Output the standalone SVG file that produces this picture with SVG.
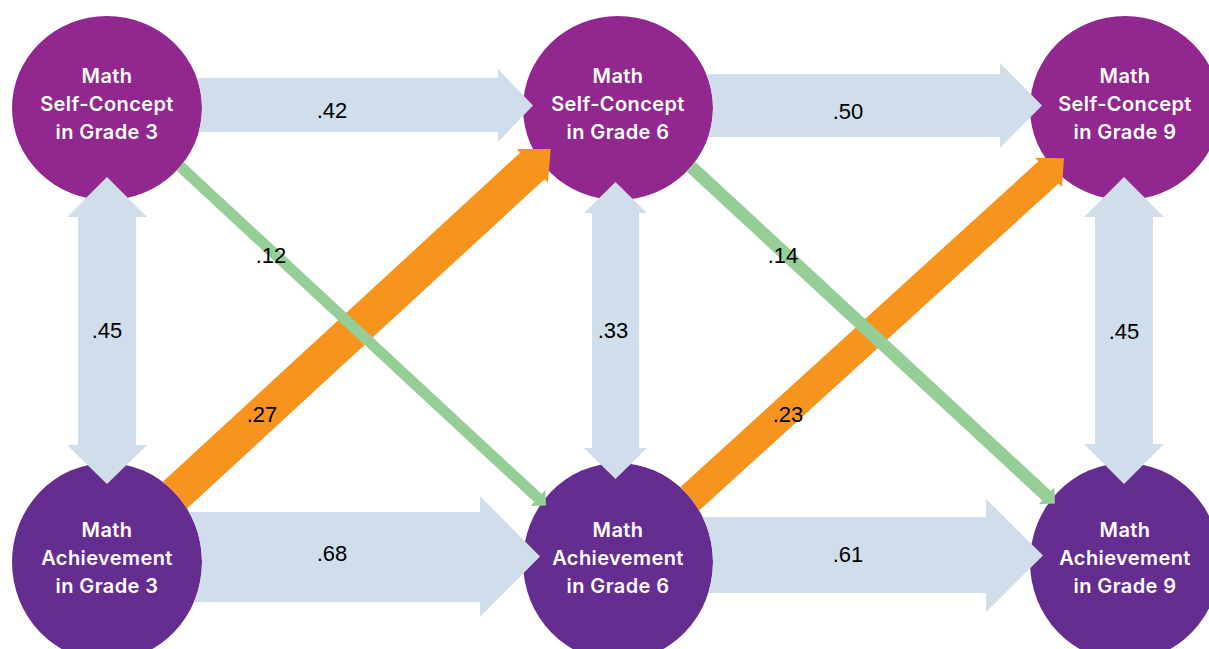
<svg xmlns="http://www.w3.org/2000/svg" width="1209" height="649" viewBox="0 0 1209 649">
<style>
.sc{fill:#92278F}
.ac{fill:#662D91}
.nt{fill:#FFFFFF;font-family:Inter,"Open Sans","Liberation Sans",sans-serif;font-weight:600;font-size:20px;text-anchor:middle;letter-spacing:0.4px}
.blue{fill:#D0DDEA}
.orange{fill:#F7941D}
.green{fill:#95CE96}
.lbl{fill:#000000;font-family:"Liberation Sans",Arial,sans-serif;font-size:22px;text-anchor:middle}
</style>
<defs>
<clipPath id="xSC3"><path clip-rule="evenodd" d="M0 0H1209V649H0Z M12 108A95 92 0 1 0 202 108A95 92 0 1 0 12 108Z"/></clipPath>
<clipPath id="xSC6"><path clip-rule="evenodd" d="M0 0H1209V649H0Z M523 108A95 92 0 1 0 713 108A95 92 0 1 0 523 108Z"/></clipPath>
<clipPath id="xAC3"><path clip-rule="evenodd" d="M0 0H1209V649H0Z M12 562A95 99 0 1 0 202 562A95 99 0 1 0 12 562Z"/></clipPath>
<clipPath id="xAC6"><path clip-rule="evenodd" d="M0 0H1209V649H0Z M523 562A95 99 0 1 0 713 562A95 99 0 1 0 523 562Z"/></clipPath>
</defs>
<rect width="1209" height="649" fill="#FFFFFF"/>

<g id="node-sc3"><ellipse class="sc" cx="107" cy="108" rx="95" ry="92"/>
<text class="nt" x="107" y="83">Math</text><text class="nt" x="107" y="111">Self-Concept</text><text class="nt" x="107" y="139">in Grade 3</text></g>
<g id="node-sc6"><ellipse class="sc" cx="618" cy="108" rx="95" ry="92"/>
<text class="nt" x="618" y="83">Math</text><text class="nt" x="618" y="111">Self-Concept</text><text class="nt" x="618" y="139">in Grade 6</text></g>
<g id="node-sc9"><ellipse class="sc" cx="1125" cy="108" rx="95" ry="92"/>
<text class="nt" x="1125" y="83">Math</text><text class="nt" x="1125" y="111">Self-Concept</text><text class="nt" x="1125" y="139">in Grade 9</text></g>
<g id="node-ac3"><ellipse class="ac" cx="107" cy="562" rx="95" ry="99"/>
<text class="nt" x="107" y="537">Math</text><text class="nt" x="107" y="565">Achievement</text><text class="nt" x="107" y="593">in Grade 3</text></g>
<g id="node-ac6"><ellipse class="ac" cx="618" cy="562" rx="95" ry="99"/>
<text class="nt" x="618" y="537">Math</text><text class="nt" x="618" y="565">Achievement</text><text class="nt" x="618" y="593">in Grade 6</text></g>
<g id="node-ac9"><ellipse class="ac" cx="1125" cy="562" rx="95" ry="99"/>
<text class="nt" x="1125" y="537">Math</text><text class="nt" x="1125" y="565">Achievement</text><text class="nt" x="1125" y="593">in Grade 9</text></g>

<g id="connectors">
<polygon class="blue" clip-path="url(#xSC3)" points="107,78 498,78 498,69 533,105.5 498,142 498,132 107,132"/>
<polygon class="blue" clip-path="url(#xSC6)" points="618,74 1000,74 1000,63 1042,105.5 1000,148 1000,137 618,137"/>
<polygon class="blue" clip-path="url(#xAC3)" points="107,512 480,512 480,496 540,556.5 480,617 480,602 107,602"/>
<polygon class="blue" clip-path="url(#xAC6)" points="618,517 986,517 986,499 1043,555.5 986,612 986,593 618,593"/>
<polygon class="blue" points="107,177 147,217 136,217 136,445 147,445 107,484 67,445 78,445 78,217 67,217"/>
<polygon class="blue" points="615.5,182 647,213 639,213 639,448 647,448 615.5,479 584,448 592,448 592,213 584,213"/>
<polygon class="blue" points="1124,177 1164,217 1153,217 1153,444 1164,444 1124,484 1084,444 1095,444 1095,217 1084,217"/>
<g clip-path="url(#xAC3)"><polygon class="orange" transform="translate(550.7,149) rotate(-42.65)" points="0,0 -25,23 -25,18 -534,18 -534,-18 -25,-18 -25,-23"/></g>
<g clip-path="url(#xAC6)"><polygon class="orange" transform="translate(1064,158.3) rotate(-42.3)" points="0,0 -21,20 -21,15 -540,15 -540,-15 -21,-15 -21,-20"/></g>
<g clip-path="url(#xSC3)"><polygon class="green" transform="translate(546,505.5) rotate(42.83)" points="0,0 -11,11 -11,5.5 -515,5.5 -515,-5.5 -11,-5.5 -11,-11"/></g>
<g clip-path="url(#xSC6)"><polygon class="green" transform="translate(1055,503.5) rotate(42.78)" points="0,0 -11.5,11.5 -11.5,6.5 -514,6.5 -514,-6.5 -11.5,-6.5 -11.5,-11.5"/></g>
</g>

<g id="labels">
<text class="lbl" x="332" y="118">.42</text>
<text class="lbl" x="848" y="119">.50</text>
<text class="lbl" x="332" y="561">.68</text>
<text class="lbl" x="848" y="562">.61</text>
<text class="lbl" x="271" y="263">.12</text>
<text class="lbl" x="783" y="263">.14</text>
<text class="lbl" x="107" y="338">.45</text>
<text class="lbl" x="613" y="338">.33</text>
<text class="lbl" x="1124" y="339">.45</text>
<text class="lbl" x="262" y="422">.27</text>
<text class="lbl" x="788" y="422">.23</text>
</g>
</svg>
